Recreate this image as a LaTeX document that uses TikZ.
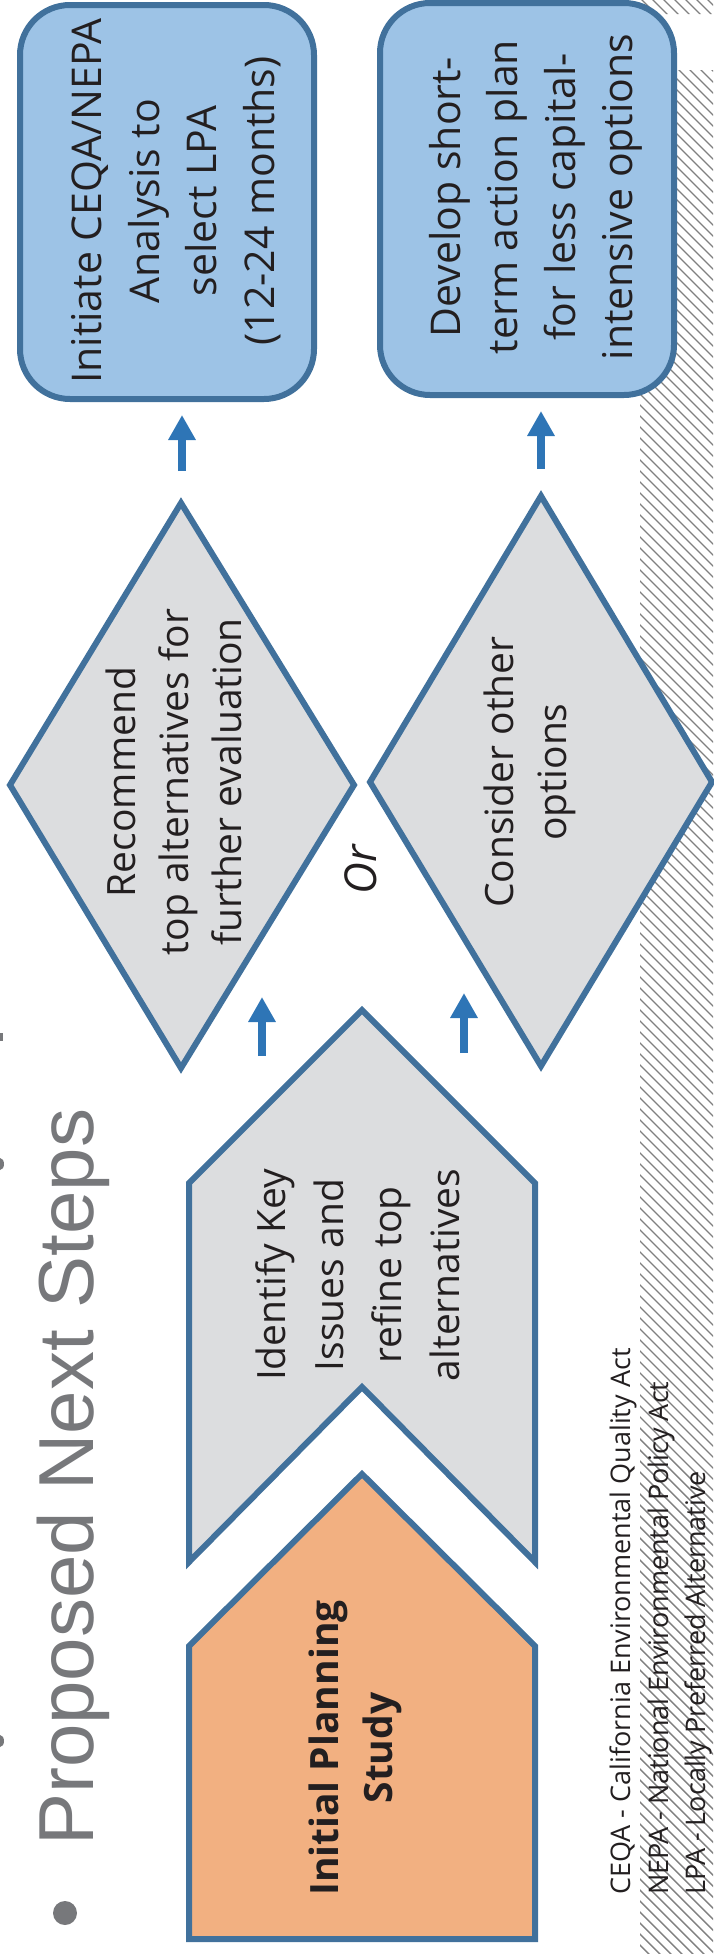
\documentclass[tikz,border=0pt]{standalone}
\usepackage{fontspec}
\setmainfont{Open Sans}
\newfontfamily\titlefont{Liberation Sans}
\usetikzlibrary{arrows.meta}
\definecolor{edgeblue}{HTML}{41719C}
\definecolor{boxblue}{HTML}{9DC3E6}
\definecolor{shapegray}{HTML}{DCDDDF}
\definecolor{orangefill}{HTML}{F2B081}
\definecolor{arrowblue}{HTML}{2E75B6}
\definecolor{titlegray}{HTML}{77787B}
\definecolor{hatchgray}{HTML}{808080}
\definecolor{textdark}{HTML}{231F20}
\tikzset{
  shapeline/.style={draw=edgeblue, line width=6pt, line join=miter},
  arr/.style={draw=arrowblue, line width=8.5pt, -{Triangle[width=26pt,length=25pt]}},
  hatchline/.style={draw=hatchgray, line width=1.4pt},
  rtext/.style={rotate=90, align=center, inner sep=0pt, text=textdark},
  boxtext/.style={rtext, font=\fontsize{41}{57.5}\selectfont},
  diatext/.style={rtext, font=\fontsize{39}{53}\selectfont},
  chevtext/.style={rtext, font=\fontsize{39}{58}\selectfont},
  boldtext/.style={rtext, font=\bfseries\fontsize{39}{54}\selectfont},
  ortext/.style={rtext, font=\itshape\fontsize{44}{50}\selectfont},
  titletext/.style={rotate=90, inner sep=0pt, text=titlegray, font=\titlefont\fontsize{78}{78}\selectfont},
  fntext/.style={rotate=90, inner sep=0pt, text=textdark, font=\fontsize{27}{38}\selectfont},
}
\begin{document}
\begin{tikzpicture}[x=1pt,y=-1pt]
\useasboundingbox (0,0) rectangle (713,1954);
% hatched margin
\begin{scope}
  \clip (640,0) rectangle (713,14) (640,70) rectangle (713,1954);
  \foreach \k in {-100,-89,...,1960} \draw[hatchline] (630,\k) -- ++(100,100);
\end{scope}
% fragments of the cut-off line at the left edge
\fill[titlegray] (0,1033) rectangle (3,1041);
\fill[titlegray] (0,1164) ellipse (4 and 6);
\fill[titlegray] (0,1741) ellipse (4 and 6);
% title
\node[titletext, anchor=base west] (title) at (93,1846) {Proposed Next Steps};
\node[circle, fill=titlegray, minimum size=24pt, inner sep=0pt] (bullet) at (65,1913) {};
% rounded boxes
\draw[shapeline, fill=boxblue, rounded corners=50pt] (20,5) rectangle (314,399);
\draw[shapeline, fill=boxblue, rounded corners=50pt] (380,3) rectangle (674,395);
% diamonds
\draw[shapeline, fill=shapegray] (181,503) -- (354,785) -- (181,1068) -- (10,785) -- cycle;
\draw[shapeline, fill=shapegray] (541,496) -- (712,782) -- (541,1066) -- (370,782) -- cycle;
% chevrons
\draw[shapeline, fill=shapegray] (362,1010) -- (535,1183) -- (535,1562) -- (362,1387) -- (189,1562) -- (189,1183) -- cycle;
\draw[shapeline, fill=orangefill] (362,1474) -- (535,1646) -- (535,1939) -- (189,1939) -- (189,1646) -- cycle;
% texts
\node[boxtext] (b1t) at (176,201) {Initiate CEQA/NEPA\\Analysis to\\select LPA\\(12-24 months)};
\node[boxtext] (b2t) at (536,197) {Develop short-\\term action plan\\for less capital-\\intensive options};
\node[diatext] (d1t) at (173.5,782) {Recommend\\top alternatives for\\further evaluation};
\node[diatext] (d2t) at (529.5,772) {Consider other\\options};
\node[ortext] (ort) at (361,870) {Or};
\node[chevtext] (c2t) at (358,1275) {Identify Key\\Issues and\\refine top\\alternatives};
\node[boldtext] (c1t) at (355.5,1748) {Initial Planning\\Study};
% footnotes
\node[fntext, anchor=base west] (fn1) at (630,1895) {CEQA - California Environmental Quality Act};
\node[fntext, anchor=base west] (fn2) at (668,1895) {NEPA - National Environmental Policy Act};
\node[fntext, anchor=base west] (fn3) at (705,1895) {LPA - Locally Preferred Alternative};
% arrows
\coordinate (a1s) at (182,471); \coordinate (a1e) at (182,415);
\coordinate (a2s) at (541,469); \coordinate (a2e) at (541,411);
\coordinate (a3s) at (262,1056); \coordinate (a3e) at (262,997);
\coordinate (a4s) at (464,1053); \coordinate (a4e) at (464,993);
\draw[arr] (a1s) -- (a1e);
\draw[arr] (a2s) -- (a2e);
\draw[arr] (a3s) -- (a3e);
\draw[arr] (a4s) -- (a4e);
\end{tikzpicture}
\end{document}
